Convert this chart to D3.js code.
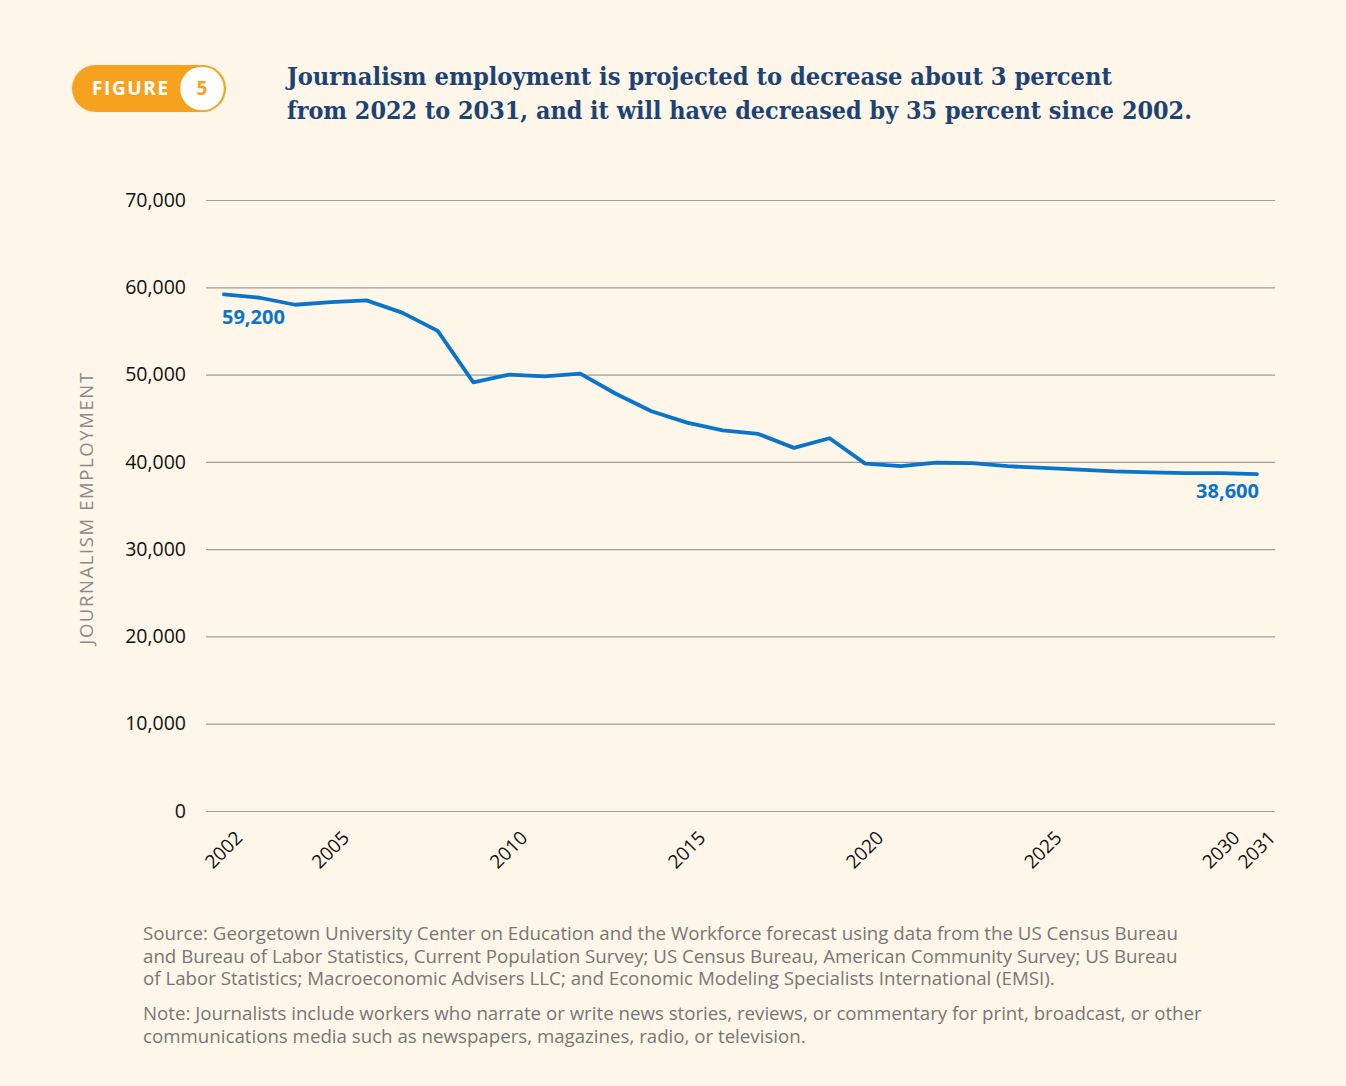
<!DOCTYPE html>
<html>
<head>
<meta charset="utf-8">
<script src="https://cdn.jsdelivr.net/npm/d3@7"></script>
<style>
  body { margin: 0; background: #fef6e8; }
  svg { display: block; }
</style>
</head>
<body>
<svg id="chart" width="1346" height="1086"></svg>
<script>
const years = d3.range(2002, 2032);
const employment = [
  59200, 58800, 58000, 58300, 58500, 57100, 55000, 49100, 50000, 49800,
  50100, 47800, 45800, 44500, 43600, 43200, 41600, 42700, 39800, 39500,
  39900, 39850, 39500, 39300, 39100, 38900, 38800, 38700, 38700, 38600
];
const yTicks = [0, 10000, 20000, 30000, 40000, 50000, 60000, 70000];
const xTicks = [2002, 2005, 2010, 2015, 2020, 2025, 2030, 2031];
const titleLines = [
  "Journalism employment is projected to decrease about 3 percent",
  "from 2022 to 2031, and it will have decreased by 35 percent since 2002."
];
const titleWidths = [825, 905];
const sourceLines = [
  "Source: Georgetown University Center on Education and the Workforce forecast using data from the US Census Bureau",
  "and Bureau of Labor Statistics, Current Population Survey; US Census Bureau, American Community Survey; US Bureau",
  "of Labor Statistics; Macroeconomic Advisers LLC; and Economic Modeling Specialists International (EMSI)."
];
const noteLines = [
  "Note: Journalists include workers who narrate or write news stories, reviews, or commentary for print, broadcast, or other",
  "communications media such as newspapers, magazines, radio, or television."
];

const data = years.map((y, i) => ({ year: y, value: employment[i] }));

const svg = d3.select("#chart");
const sans = "'Open Sans', 'Noto Sans', sans-serif";

svg.append("rect")
  .attr("width", 1346)
  .attr("height", 1086)
  .attr("fill", "#fef6e8");

// figure badge
const badge = svg.append("g");
badge.append("rect")
  .attr("x", 72).attr("y", 65)
  .attr("width", 154).attr("height", 47)
  .attr("rx", 23.5)
  .attr("fill", "#f7a21e");
badge.append("circle")
  .attr("cx", 202).attr("cy", 88.5).attr("r", 22.5)
  .attr("fill", "#fff")
  .attr("stroke", "#f7a21e")
  .attr("stroke-width", 1.5);
badge.append("text")
  .attr("x", 92).attr("y", 95)
  .attr("font-family", sans)
  .attr("font-weight", 700)
  .attr("font-size", 19)
  .attr("letter-spacing", 1.6)
  .attr("fill", "#fff")
  .text("FIGURE");
badge.append("text")
  .attr("x", 202).attr("y", 95)
  .attr("text-anchor", "middle")
  .attr("font-family", sans)
  .attr("font-weight", 700)
  .attr("font-size", 19)
  .attr("fill", "#f7a21e")
  .text("5");

svg.append("g")
  .selectAll("text")
  .data(titleLines)
  .join("text")
  .attr("x", 287)
  .attr("y", (d, i) => 85 + i * 34)
  .attr("font-family", "'DejaVu Serif', serif")
  .attr("font-weight", 700)
  .attr("font-size", 24)
  .attr("textLength", (d, i) => titleWidths[i])
  .attr("lengthAdjust", "spacingAndGlyphs")
  .attr("fill", "#1d4375")
  .text(d => d);

const margin = { top: 200, right: 71, bottom: 275, left: 206 };
const innerWidth = 1346 - margin.left - margin.right;
const innerHeight = 1086 - margin.top - margin.bottom;

const g = svg.append("g")
  .attr("transform", `translate(${margin.left}, ${margin.top})`);

const x = d3.scaleLinear()
  .domain([2002, 2031])
  .range([18, innerWidth - 18]);

const y = d3.scaleLinear()
  .domain([0, 70000])
  .range([innerHeight, 0]);

// gridlines + y labels
const yAxis = g.append("g")
  .call(d3.axisLeft(y)
    .tickValues(yTicks)
    .tickSize(-innerWidth)
    .tickPadding(20)
    .tickFormat(d3.format(",")));
yAxis.select(".domain").remove();
yAxis.selectAll(".tick line")
  .attr("stroke", "#9e9e9e")
  .attr("stroke-width", 1.2);
yAxis.selectAll(".tick text")
  .attr("font-family", sans)
  .attr("font-size", 19.5)
  .attr("fill", "#111");

const xAxis = g.append("g")
  .attr("transform", `translate(0, ${innerHeight})`)
  .call(d3.axisBottom(x)
    .tickValues(xTicks)
    .tickSize(0)
    .tickFormat(d3.format("d")));
xAxis.select(".domain").remove();
xAxis.selectAll(".tick text")
  .attr("font-family", sans)
  .attr("font-size", 19)
  .attr("fill", "#111")
  .attr("text-anchor", "end")
  .attr("dy", 0)
  .attr("transform", "translate(17, 26) rotate(-45)");

g.append("text")
  .attr("transform", "rotate(-90)")
  .attr("x", -308)
  .attr("y", -113)
  .attr("text-anchor", "middle")
  .attr("font-family", sans)
  .attr("font-size", 18.5)
  .attr("letter-spacing", 1.6)
  .attr("fill", "#8a8a8a")
  .text("JOURNALISM EMPLOYMENT");

const line = d3.line()
  .x(d => x(d.year))
  .y(d => y(d.value));

g.append("path")
  .datum(data)
  .attr("fill", "none")
  .attr("stroke", "#0a74cb")
  .attr("stroke-width", 3.8)
  .attr("stroke-linejoin", "round")
  .attr("stroke-linecap", "round")
  .attr("d", line);

const first = data[0];
const last = data[data.length - 1];

g.append("text")
  .attr("x", x(first.year) - 2)
  .attr("y", y(first.value) + 30)
  .attr("font-family", sans)
  .attr("font-weight", 700)
  .attr("font-size", 20)
  .attr("fill", "#0a74cb")
  .text(d3.format(",")(first.value));

g.append("text")
  .attr("x", x(last.year) + 2)
  .attr("y", y(last.value) + 24)
  .attr("text-anchor", "end")
  .attr("font-family", sans)
  .attr("font-weight", 700)
  .attr("font-size", 20)
  .attr("fill", "#0a74cb")
  .text(d3.format(",")(last.value));

// footer
svg.append("g")
  .selectAll("text")
  .data(sourceLines)
  .join("text")
  .attr("x", 143)
  .attr("y", (d, i) => 940 + i * 22.5)
  .attr("font-family", sans)
  .attr("font-size", 18.7)
  .attr("fill", "#777")
  .text(d => d);

svg.append("g")
  .selectAll("text")
  .data(noteLines)
  .join("text")
  .attr("x", 143)
  .attr("y", (d, i) => 1020 + i * 22.5)
  .attr("font-family", sans)
  .attr("font-size", 18.7)
  .attr("fill", "#777")
  .text(d => d);
</script>
</body>
</html>
